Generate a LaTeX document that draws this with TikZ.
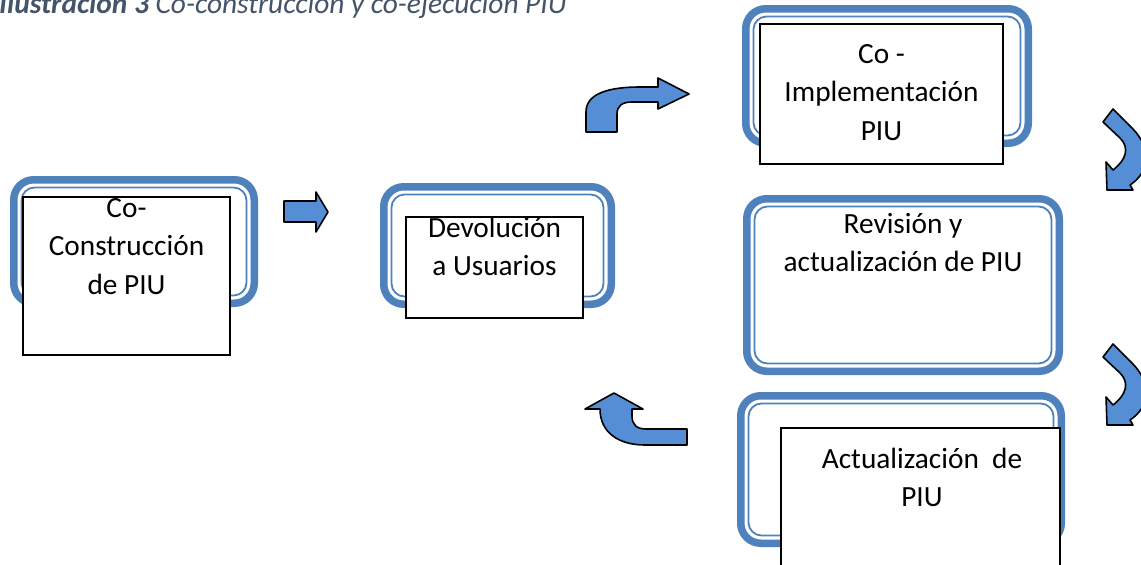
\documentclass[tikz,border=0pt]{standalone}
\usepackage{fontspec}
\setmainfont{Carlito}
\definecolor{frameblue}{HTML}{4F81BD}
\definecolor{arrowblue}{HTML}{558ED5}
\definecolor{captiongray}{HTML}{44546A}
\tikzset{
  thickframe/.style={draw=frameblue, line width=7.5pt, rounded corners=20pt},
  thinframe/.style={draw=frameblue, line width=1.8pt, rounded corners=13pt},
  whitebox/.style={draw=black, fill=white, line width=1.3pt},
  blockarrow/.style={draw=black, fill=arrowblue, line width=1.6pt, line join=round},
  boxtext/.style={anchor=base, inner sep=0pt, font=\fontsize{29.3}{38.5}\selectfont},
}
\newcommand\doubleframe[4]{%
  \draw[thickframe] (#1+3.75,#2+3.75) rectangle (#3-3.75,#4-3.75);
  \draw[thinframe] (#1+11.5,#2+11.5) rectangle (#3-11.5,#4-11.5);
}
\newcommand\curvedDownArrow{%
  \draw[blockarrow] (1113,109) -- (1132,128)
    .. controls (1152,148) and (1150,172) .. (1130,185)
    -- (1133,190) -- (1107,190) -- (1106,162) -- (1113,170)
    .. controls (1126,160) and (1130,148) .. (1120,138)
    -- (1103,122) -- cycle;
}
\begin{document}
\begin{tikzpicture}[x=1pt,y=-1pt]
\useasboundingbox (0,0) rectangle (1141,565);
\clip (0,0) rectangle (1141,565);
\fill[white] (0,0) rectangle (1141,565);

% caption
\node[anchor=base east, inner sep=0pt, text=captiongray,
      font=\fontsize{29.4}{32}\selectfont\itshape] (title) at (567,13)
  {\textbf{Ilustración 3} Co-construcción y co-ejecución PIU};

% frames
\doubleframe{10}{176}{258}{307}
\doubleframe{380}{183}{615}{308}
\doubleframe{742}{5}{1032}{147}
\doubleframe{743}{195}{1063}{375}
\doubleframe{737}{392}{1065}{547}

% white text boxes
\draw[whitebox] (23,197) rectangle (230,355);
\draw[whitebox] (406,217) rectangle (583,318);
\draw[whitebox] (760,24) rectangle (1003,164);
\draw[whitebox] (781,428) rectangle (1060,600);

% texts
\node[boxtext] (t1) at (126.5,217) {\begin{tabular}[t]{@{}c@{}}Co-\\Construcción\\de PIU\end{tabular}};
\node[boxtext] (t2) at (494.5,237) {\begin{tabular}[t]{@{}c@{}}Devolución\\a Usuarios\end{tabular}};
\node[boxtext] (t3) at (881.5,63) {\begin{tabular}[t]{@{}c@{}}Co -\\Implementación\\PIU\end{tabular}};
\node[boxtext] (t4) at (903,233) {\begin{tabular}[t]{@{}c@{}}Revisión y\\actualización de PIU\end{tabular}};
\node[boxtext] (t5) at (922,468) {\begin{tabular}[t]{@{}c@{}}Actualización\ \ de\\PIU\end{tabular}};

% block arrows
\draw[blockarrow] (284,201) -- (316,201) -- (316,192) -- (328,212)
  -- (316,232) -- (316,222) -- (284,222) -- cycle;

\draw[blockarrow] (586,132) -- (586,112) .. controls (586,93) and (610,87) .. (640,87)
  -- (658,87) -- (658,78) -- (689,94) -- (658,109) -- (658,102) -- (632,102)
  .. controls (622,102) and (617,106) .. (617,114) -- (617,132) -- cycle;

\draw[blockarrow] (687,429) -- (687,445) -- (645,445)
  .. controls (618,445) and (600,432) .. (600,409)
  -- (585,409) -- (614,393) -- (643,409) -- (632,409) -- (632,416)
  .. controls (632,425) and (637,429) .. (646,429) -- cycle;

\curvedDownArrow
\begin{scope}[shift={(0,235)}]
\curvedDownArrow
\end{scope}
\end{tikzpicture}
\end{document}
